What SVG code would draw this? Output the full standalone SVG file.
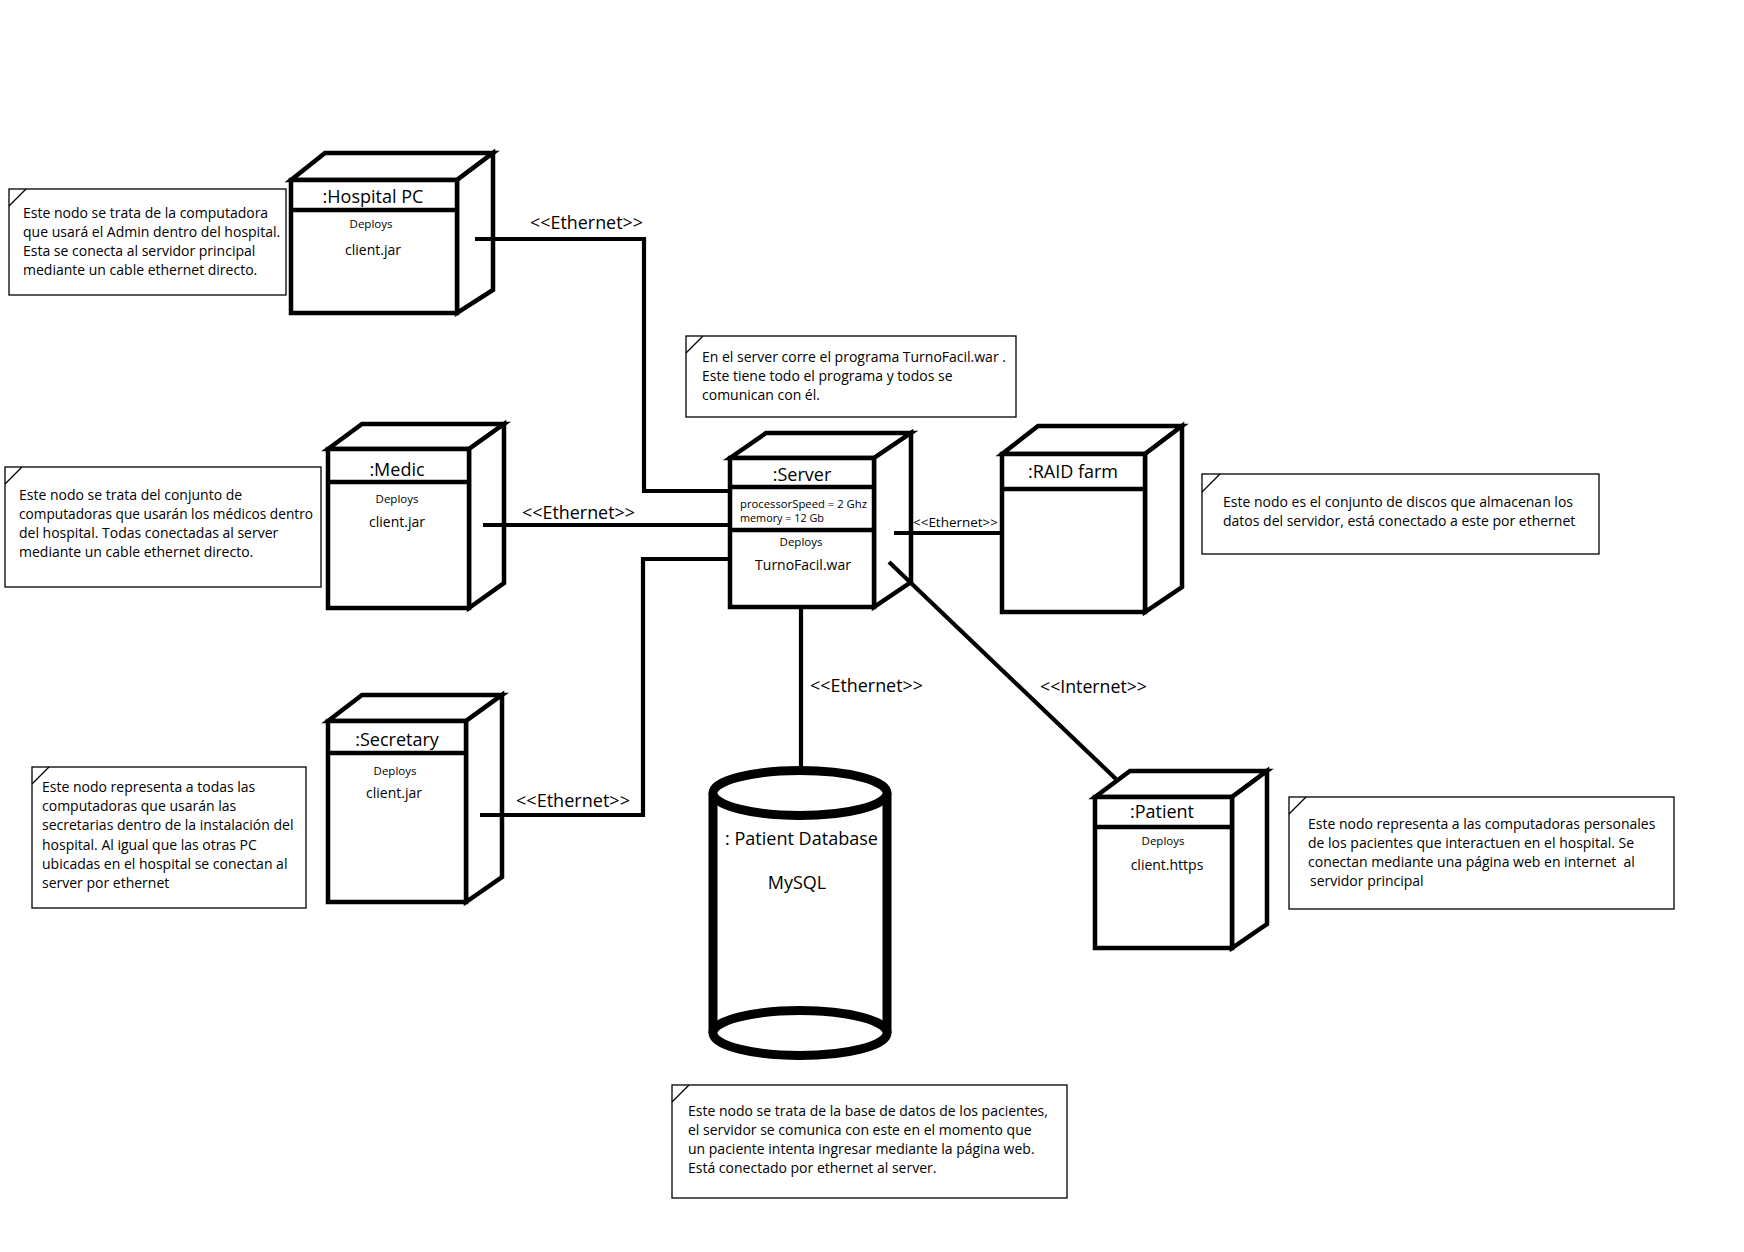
<svg xmlns="http://www.w3.org/2000/svg" width="1744" height="1252" viewBox="0 0 1744 1252">
<style>
  .box { fill:#fff; stroke:#000; stroke-width:4.5; stroke-linejoin:miter; }
  .sep { stroke:#000; stroke-width:4.5; }
  .conn { fill:none; stroke:#000; stroke-width:4.2; stroke-linejoin:miter; }
  .note { fill:#fff; stroke:#000; stroke-width:1.3; }
  .corner { stroke:#000; stroke-width:1.2; }
  .cyl { stroke:#000; stroke-width:9; }
  text { font-family:"Open Sans","Noto Sans","DejaVu Sans",sans-serif; fill:#000; }
  .nt { font-size:14px; }
  .title { font-size:18px; text-anchor:middle; }
  .dep { font-size:11.5px; text-anchor:middle; }
  .art { font-size:14px; text-anchor:middle; }
  .lbl { font-size:18px; }
  .attr { font-size:11px; }
</style>
<rect width="1744" height="1252" fill="#fff"/>

<!-- Nodes -->
<g id="hospital-pc">
  <polygon class="box" points="291,180 325,153 493,153 457,180"/>
  <polygon class="box" points="457,180 493,153 493,290 457,313"/>
  <rect class="box" x="291" y="180" width="166" height="133"/>
  <line class="sep" x1="291" y1="210" x2="457" y2="210"/>
  <text class="title" x="373" y="203">:Hospital PC</text>
  <text class="dep" x="371" y="228">Deploys</text>
  <text class="art" x="373" y="255">client.jar</text>
</g>

<g id="medic">
  <polygon class="box" points="328,449 362,424 504,424 469,449"/>
  <polygon class="box" points="469,449 504,424 504,583 469,608"/>
  <rect class="box" x="328" y="449" width="141" height="159"/>
  <line class="sep" x1="328" y1="482" x2="469" y2="482"/>
  <text class="title" x="397" y="476">:Medic</text>
  <text class="dep" x="397" y="503">Deploys</text>
  <text class="art" x="397" y="527">client.jar</text>
</g>

<g id="secretary">
  <polygon class="box" points="328,721 362,695 502,695 466,721"/>
  <polygon class="box" points="466,721 502,695 502,877 466,902"/>
  <rect class="box" x="328" y="721" width="138" height="181"/>
  <line class="sep" x1="328" y1="753" x2="466" y2="753"/>
  <text class="title" x="397" y="746">:Secretary</text>
  <text class="dep" x="395" y="775">Deploys</text>
  <text class="art" x="394" y="798">client.jar</text>
</g>

<g id="server">
  <polygon class="box" points="730,458 766,433 911,433 874,458"/>
  <polygon class="box" points="874,458 911,433 911,582 874,607"/>
  <rect class="box" x="730" y="458" width="144" height="149"/>
  <line class="sep" x1="730" y1="487" x2="874" y2="487"/>
  <line class="sep" x1="730" y1="530" x2="874" y2="530"/>
  <text class="title" x="802" y="481">:Server</text>
  <text class="attr" x="740" y="508" textLength="127" lengthAdjust="spacingAndGlyphs">processorSpeed = 2 Ghz</text>
  <text class="attr" x="740" y="522" textLength="84" lengthAdjust="spacingAndGlyphs">memory = 12 Gb</text>
  <text class="dep" x="801" y="546">Deploys</text>
  <text class="art" x="803" y="570">TurnoFacil.war</text>
</g>

<g id="raid-farm">
  <polygon class="box" points="1002,454 1038,426 1182,426 1145,454"/>
  <polygon class="box" points="1145,454 1182,426 1182,587 1145,612"/>
  <rect class="box" x="1002" y="454" width="143" height="158"/>
  <line class="sep" x1="1002" y1="489" x2="1145" y2="489"/>
  <text class="title" x="1073" y="478">:RAID farm</text>
</g>

<g id="patient">
  <polygon class="box" points="1095,797 1130,771 1267,771 1232,797"/>
  <polygon class="box" points="1232,797 1267,771 1267,924 1232,948"/>
  <rect class="box" x="1095" y="797" width="137" height="151"/>
  <line class="sep" x1="1095" y1="827" x2="1232" y2="827"/>
  <text class="title" x="1162" y="818">:Patient</text>
  <text class="dep" x="1163" y="845">Deploys</text>
  <text class="art" x="1167" y="870">client.https</text>
</g>

<g id="patient-database">
  <rect x="713" y="793" width="174" height="240" fill="#fff"/>
  <line class="cyl" x1="713" y1="793" x2="713" y2="1033"/>
  <line class="cyl" x1="887" y1="793" x2="887" y2="1033"/>
  <ellipse class="cyl" cx="800" cy="1033" rx="87" ry="22.5" fill="#fff"/>
  <ellipse class="cyl" cx="800" cy="793" rx="87" ry="22.5" fill="#fff"/>
  <text x="725" y="845" style="font-size:17.5px" textLength="153" lengthAdjust="spacingAndGlyphs">: Patient Database</text>
  <text x="797" y="889" style="font-size:18px;text-anchor:middle">MySQL</text>
</g>

<!-- Connectors -->
<g id="connectors">
  <polyline class="conn" points="475,239 644,239 644,491 730,491"/>
  <line class="conn" x1="483" y1="525" x2="730" y2="525"/>
  <polyline class="conn" points="480,815 643,815 643,559 730,559"/>
  <line class="conn" x1="894" y1="533" x2="1002" y2="533"/>
  <line class="conn" x1="801" y1="607" x2="801" y2="768"/>
  <line class="conn" x1="889" y1="562" x2="1116" y2="779"/>
  <text class="lbl" x="530" y="229" textLength="113" lengthAdjust="spacingAndGlyphs">&lt;&lt;Ethernet&gt;&gt;</text>
  <text class="lbl" x="522" y="519" textLength="113" lengthAdjust="spacingAndGlyphs">&lt;&lt;Ethernet&gt;&gt;</text>
  <text class="lbl" x="516" y="807" textLength="114" lengthAdjust="spacingAndGlyphs">&lt;&lt;Ethernet&gt;&gt;</text>
  <text class="lbl" x="810" y="692" textLength="113" lengthAdjust="spacingAndGlyphs">&lt;&lt;Ethernet&gt;&gt;</text>
  <text x="913" y="527" style="font-size:13.5px" textLength="85" lengthAdjust="spacingAndGlyphs">&lt;&lt;Ethernet&gt;&gt;</text>
  <text class="lbl" x="1040" y="693" textLength="107" lengthAdjust="spacingAndGlyphs">&lt;&lt;Internet&gt;&gt;</text>
</g>

<!-- Notes -->
<g id="note-hospital">
  <rect class="note" x="9" y="189" width="277" height="106"/>
  <line class="corner" x1="9" y1="206" x2="26" y2="189"/>
  <text class="nt" x="23" y="218">Este nodo se trata de la computadora</text>
  <text class="nt" x="23" y="237">que usará el Admin dentro del hospital.</text>
  <text class="nt" x="23" y="256">Esta se conecta al servidor principal</text>
  <text class="nt" x="23" y="275">mediante un cable ethernet directo.</text>
</g>

<g id="note-medic">
  <rect class="note" x="5" y="467" width="316" height="120"/>
  <line class="corner" x1="5" y1="484" x2="22" y2="467"/>
  <text class="nt" x="19" y="500">Este nodo se trata del conjunto de</text>
  <text class="nt" x="19" y="519" textLength="294" lengthAdjust="spacingAndGlyphs">computadoras que usarán los médicos dentro</text>
  <text class="nt" x="19" y="538">del hospital. Todas conectadas al server</text>
  <text class="nt" x="19" y="557">mediante un cable ethernet directo.</text>
</g>

<g id="note-secretary">
  <rect class="note" x="32" y="767" width="274" height="141"/>
  <line class="corner" x1="32" y1="784" x2="49" y2="767"/>
  <text class="nt" x="42" y="792">Este nodo representa a todas las</text>
  <text class="nt" x="42" y="811">computadoras que usarán las</text>
  <text class="nt" x="42" y="830">secretarias dentro de la instalación del</text>
  <text class="nt" x="42" y="850">hospital. Al igual que las otras PC</text>
  <text class="nt" x="42" y="869">ubicadas en el hospital se conectan al</text>
  <text class="nt" x="42" y="888">server por ethernet</text>
</g>

<g id="note-server">
  <rect class="note" x="686" y="336" width="330" height="81"/>
  <line class="corner" x1="686" y1="353" x2="703" y2="336"/>
  <text class="nt" x="702" y="362">En el server corre el programa TurnoFacil.war .</text>
  <text class="nt" x="702" y="381">Este tiene todo el programa y todos se</text>
  <text class="nt" x="702" y="400">comunican con él.</text>
</g>

<g id="note-raid">
  <rect class="note" x="1202" y="474" width="397" height="80"/>
  <line class="corner" x1="1202" y1="492" x2="1220" y2="474"/>
  <text class="nt" x="1223" y="507">Este nodo es el conjunto de discos que almacenan los</text>
  <text class="nt" x="1223" y="526">datos del servidor, está conectado a este por ethernet</text>
</g>

<g id="note-patient">
  <rect class="note" x="1289" y="797" width="385" height="112"/>
  <line class="corner" x1="1289" y1="814" x2="1306" y2="797"/>
  <text class="nt" x="1308" y="829">Este nodo representa a las computadoras personales</text>
  <text class="nt" x="1308" y="848">de los pacientes que interactuen en el hospital. Se</text>
  <text class="nt" x="1308" y="867" xml:space="preserve">conectan mediante una página web en internet  al</text>
  <text class="nt" x="1310" y="886">servidor principal</text>
</g>

<g id="note-database">
  <rect class="note" x="672" y="1085" width="395" height="113"/>
  <line class="corner" x1="672" y1="1102" x2="689" y2="1085"/>
  <text class="nt" x="688" y="1116">Este nodo se trata de la base de datos de los pacientes,</text>
  <text class="nt" x="688" y="1135">el servidor se comunica con este en el momento que</text>
  <text class="nt" x="688" y="1154">un paciente intenta ingresar mediante la página web.</text>
  <text class="nt" x="688" y="1173">Está conectado por ethernet al server.</text>
</g>
</svg>
